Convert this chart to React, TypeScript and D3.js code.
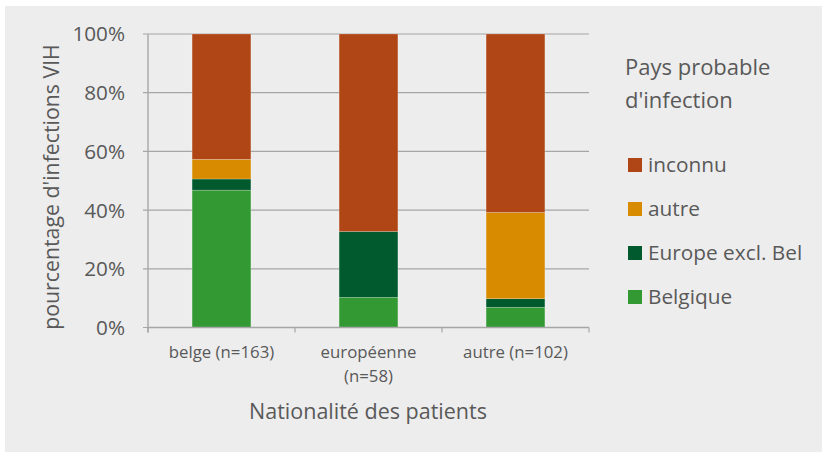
import React from "react";
import * as d3 from "d3";

const categories = ["belge (n=163)", "européenne (n=58)", "autre (n=102)"];
const categoryLines = [["belge (n=163)"], ["européenne", "(n=58)"], ["autre (n=102)"]];
const seriesNames = ["Belgique", "Europe excl. Bel", "autre", "inconnu"];
const belgique = [46.8, 10.3, 6.9];
const europe = [3.8, 22.4, 2.9];
const autre = [6.7, 0, 29.4];
const inconnu = [42.7, 67.3, 60.8];
const yTicks = [0, 20, 40, 60, 80, 100];
const colors = ["#339933", "#005a2e", "#d98b00", "#b04615"];
const legendOrder = ["inconnu", "autre", "Europe excl. Bel", "Belgique"];

const FONT = "'Open Sans', 'Noto Sans', sans-serif";
const TEXT = "#595959";

export default function App() {
  const W = 822, H = 452;
  const left = 148, right = 589, top = 34, bottom = 327.5;
  const x = d3.scaleBand<string>().domain(categories).range([left, right]).paddingInner(0.6).paddingOuter(0.3);
  const xOuter = d3.scaleBand<string>().domain(categories).range([left, right]);
  const y = d3.scaleLinear().domain([0, 100]).range([bottom, top]);

  const table = categories.map((c, i) => ({
    cat: c,
    Belgique: belgique[i],
    "Europe excl. Bel": europe[i],
    autre: autre[i],
    inconnu: inconnu[i],
  }));
  const stack = d3.stack<any>().keys(seriesNames);
  const layers = stack(table);

  const tickXs = [...categories.map((c) => xOuter(c)!), right];

  return (
    <svg width={W} height={H} style={{ position: "absolute", left: 0, top: 0 }} fontFamily={FONT}>
      <rect x={0} y={0} width={W} height={H} fill="#ffffff" />
      <rect x={5} y={6} width={W - 5} height={H - 6} fill="#ededed" />
      {yTicks.map((t) => (
        <g key={t}>
          <line x1={left - 5} x2={right} y1={y(t)} y2={y(t)} stroke="#a6a6a6" strokeWidth={1.2} />
          <text x={125} y={y(t)} dy="0.36em" textAnchor="end" fontSize={20.7} fill={TEXT}>
            {t}%
          </text>
        </g>
      ))}
      {layers.map((layer, li) => (
        <g key={layer.key} fill={colors[li]}>
          {layer.map((d, i) => (
            <rect
              key={i}
              x={x(categories[i])}
              width={x.bandwidth()}
              y={y(d[1])}
              height={Math.max(0, y(d[0]) - y(d[1]))}
              stroke="rgba(255,255,255,0.35)"
              strokeWidth={d[1] - d[0] > 0 ? 0.6 : 0}
            />
          ))}
        </g>
      ))}
      <line x1={left} x2={left} y1={top} y2={bottom + 5} stroke="#a6a6a6" strokeWidth={1.4} />
      <line x1={left} x2={right} y1={bottom} y2={bottom} stroke="#a6a6a6" strokeWidth={1.4} />
      {tickXs.map((tx, i) => (
        <line key={i} x1={tx} x2={tx} y1={bottom} y2={bottom + 5} stroke="#a6a6a6" strokeWidth={1.2} />
      ))}
      {categories.map((c, i) => (
        <text key={c} x={x(c)! + x.bandwidth() / 2} y={358} textAnchor="middle" fontSize={16.8} fill={TEXT}>
          {categoryLines[i].map((l, j) => (
            <tspan key={j} x={x(c)! + x.bandwidth() / 2} dy={j === 0 ? 0 : 24}>
              {l}
            </tspan>
          ))}
        </text>
      ))}
      <text x={368} y={419} textAnchor="middle" fontSize={21.5} fill={TEXT}>
        Nationalité des patients
      </text>
      <text
        transform={`translate(59, 187) rotate(-90)`}
        textAnchor="middle"
        fontSize={21.3}
        fill={TEXT}
      >
        pourcentage d'infections VIH
      </text>
      <text x={625} y={75} fontSize={22} fill={TEXT}>Pays probable</text>
      <text x={625} y={108} fontSize={22} fill={TEXT}>d'infection</text>
      {legendOrder.map((name, i) => {
        const cy = 165 + i * 44;
        return (
          <g key={name}>
            <rect x={628} y={cy - 7} width={14} height={14} fill={colors[seriesNames.indexOf(name)]} />
            <text x={648} y={cy} dy="0.36em" fontSize={20.8} fill={TEXT}>
              {name}
            </text>
          </g>
        );
      })}
    </svg>
  );
}
